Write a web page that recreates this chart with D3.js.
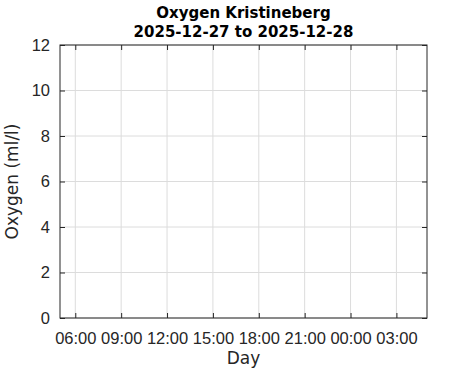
<!DOCTYPE html>
<html lang="en">
  <head>
    <meta charset="UTF-8" />
    <title>Oxygen Kristineberg</title>
    <script src="https://cdn.jsdelivr.net/npm/d3@7"></script>
    <style>
      html,
      body {
        margin: 0;
        padding: 0;
        background: #fff;
      }
      svg {
        display: block;
        font-family: 'DejaVu Sans', sans-serif;
      }
    </style>
  </head>
  <body>
    <svg width="471" height="371"></svg>
    <script>
      const parseTime = d3.timeParse('%Y-%m-%d %H:%M');

      // chart values
      const titleLines = ['Oxygen Kristineberg', '2025-12-27 to 2025-12-28'];
      const timeDomain = ['2025-12-27 05:00', '2025-12-28 05:00'];
      const xTicks = [
        '2025-12-27 06:00',
        '2025-12-27 09:00',
        '2025-12-27 12:00',
        '2025-12-27 15:00',
        '2025-12-27 18:00',
        '2025-12-27 21:00',
        '2025-12-28 00:00',
        '2025-12-28 03:00'
      ];
      const yTicks = [0, 2, 4, 6, 8, 10, 12];
      const oxygenTimes = []; // no measurements in this period
      const oxygenValues = [];

      const margin = { top: 45, right: 44, bottom: 53, left: 60 };
      const width = 471 - margin.left - margin.right;
      const height = 371 - margin.top - margin.bottom;
      const ink = '#262626';

      const svg = d3.select('svg');
      const g = svg
        .append('g')
        .attr('transform', `translate(${margin.left},${margin.top})`);

      const x = d3
        .scaleTime()
        .domain(timeDomain.map(parseTime))
        .range([0, width]);

      const y = d3
        .scaleLinear()
        .domain([0, 12])
        .range([height, 0]);

      // grid
      g.append('g')
        .selectAll('line')
        .data(xTicks.map(parseTime))
        .enter()
        .append('line')
        .attr('x1', d => x(d))
        .attr('x2', d => x(d))
        .attr('y1', 0)
        .attr('y2', height)
        .attr('stroke', '#dcdcdc');

      g.append('g')
        .selectAll('line')
        .data(yTicks)
        .enter()
        .append('line')
        .attr('x1', 0)
        .attr('x2', width)
        .attr('y1', d => y(d))
        .attr('y2', d => y(d))
        .attr('stroke', '#dcdcdc');

      // data line (empty)
      const line = d3
        .line()
        .x((d, i) => x(parseTime(oxygenTimes[i])))
        .y(d => y(d));
      g.append('path')
        .datum(oxygenValues)
        .attr('fill', 'none')
        .attr('stroke', '#0072bd')
        .attr('d', line);

      const styleAxis = sel => {
        sel.select('.domain').remove();
        sel.selectAll('line').attr('stroke', ink);
        sel
          .selectAll('text')
          .attr('fill', ink)
          .style('font-size', '16.5px');
      };

      const xAxis = d3
        .axisBottom(x)
        .tickValues(xTicks.map(parseTime))
        .tickFormat(d3.timeFormat('%H:%M'))
        .tickSizeInner(-5)
        .tickPadding(14);

      g.append('g')
        .attr('transform', `translate(0,${height})`)
        .call(xAxis)
        .call(styleAxis);

      g.append('g')
        .call(
          d3
            .axisTop(x)
            .tickValues(xTicks.map(parseTime))
            .tickSizeInner(-5)
            .tickFormat('')
        )
        .call(styleAxis);

      g.append('g')
        .call(
          d3
            .axisLeft(y)
            .tickValues(yTicks)
            .tickSizeInner(-5)
            .tickPadding(10)
        )
        .call(styleAxis);

      g.append('g')
        .attr('transform', `translate(${width},0)`)
        .call(
          d3
            .axisRight(y)
            .tickValues(yTicks)
            .tickSizeInner(-5)
            .tickFormat('')
        )
        .call(styleAxis);

      // box
      g.append('rect')
        .attr('width', width)
        .attr('height', height)
        .attr('fill', 'none')
        .attr('stroke', ink)
        .attr('stroke-width', 1);

      // title
      svg
        .append('text')
        .attr('x', margin.left + width / 2)
        .attr('text-anchor', 'middle')
        .attr('fill', '#000')
        .style('font-size', '15px')
        .style('font-weight', 'bold')
        .selectAll('tspan')
        .data(titleLines)
        .enter()
        .append('tspan')
        .attr('x', margin.left + width / 2)
        .attr('y', (d, i) => 18 + i * 19)
        .text(d => d);

      svg
        .append('text')
        .attr('x', margin.left + width / 2)
        .attr('y', 364)
        .attr('text-anchor', 'middle')
        .attr('fill', ink)
        .style('font-size', '17px')
        .text('Day');

      svg
        .append('text')
        .attr('transform', `translate(18,${margin.top + height / 2}) rotate(-90)`)
        .attr('text-anchor', 'middle')
        .attr('fill', ink)
        .style('font-size', '17px')
        .text('Oxygen (ml/l)');
    </script>
  </body>
</html>
